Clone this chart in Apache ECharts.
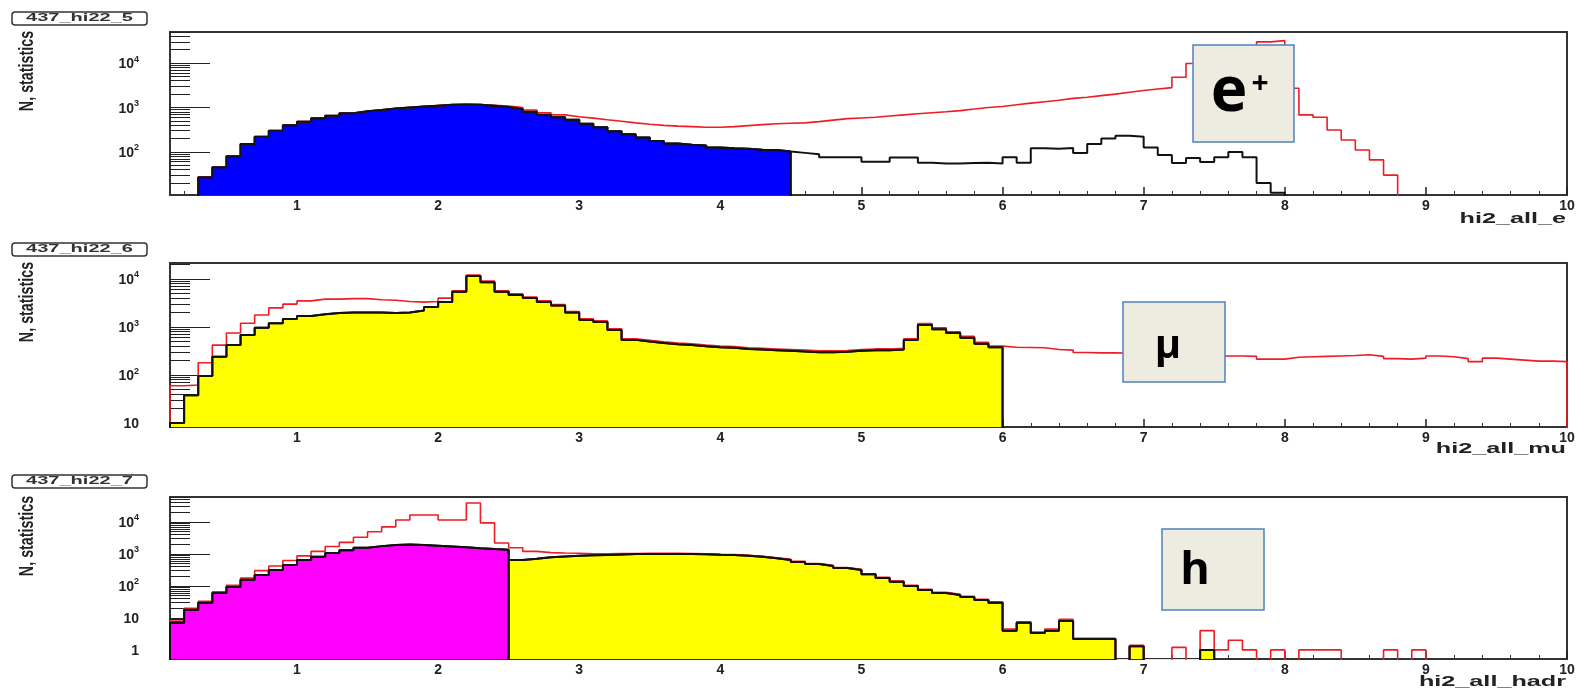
<!DOCTYPE html>
<html>
<head>
<meta charset="utf-8">
<style>
  html, body { margin: 0; padding: 0; background: #ffffff; }
  #chart { width: 1589px; height: 692px; }
</style>
<script src="https://cdn.jsdelivr.net/npm/echarts@6.0.0/dist/echarts.min.js"></script>
</head>
<body>
<div id="chart"></div>
<script>
// Histogram binning: 99 bins of width 0.1 starting at 0.1
const BIN_START = 0.1;
const BIN_WIDTH = 0.1;
const BIN_COUNT = 99;

// x axis tick labels (shared by the three pads)
const xTickLabels = [1, 2, 3, 4, 5, 6, 7, 8, 9, 10];

// Pad titles and x axis titles
const padNames = ['437_hi22_5', '437_hi22_6', '437_hi22_7'];
const xTitles = ['hi2_all_e', 'hi2_all_mu', 'hi2_all_hadr'];
const yTitle = 'N, statistics';
const particleLabels = ['e', 'μ', 'h'];

// ---- Pad 1: hi2_all_e (bin contents, one per 0.1 bin from 0.1) ----
const eAll = [
  0, 0, 27, 45, 80, 150, 220, 300, 400,
  480, 570, 650, 740, 820, 880, 950, 1000, 1050, 1100,
  1150, 1170, 1160, 1120, 1080, 1000, 880, 760, 680, 620,
  575, 530, 490, 450, 420, 395, 380, 370, 360, 360,
  370, 390, 410, 430, 440, 450, 480, 520, 560, 580,
  600, 640, 680, 720, 760, 800, 850, 920, 1000, 1050,
  1150, 1250, 1350, 1450, 1600, 1700, 1850, 2000, 2200, 2400,
  2600, 2800, 4800, 9800, 12000, 15000, 18000, 22000, 30000, 32000,
  2700, 680, 600, 310, 185, 110, 66, 30, 0, 0,
  0, 0, 0, 0, 0, 0, 0, 0, 0, 0
];
const eSel = [
  0, 0, 27, 45, 80, 150, 220, 300, 400,
  480, 570, 650, 740, 820, 880, 950, 1000, 1050, 1100,
  1150, 1170, 1150, 1100, 1020, 920, 800, 690, 600, 530,
  430, 360, 290, 250, 210, 175, 155, 145, 140, 125,
  120, 118, 112, 110, 102, 95, 88, 76, 76, 76,
  60, 60, 75, 75, 57, 55, 55, 56, 57, 55,
  76, 57, 120, 118, 122, 95, 150, 200, 230, 220,
  125, 85, 56, 73, 59, 76, 99, 76, 20, 12,
  0, 0, 0, 0, 0, 0, 0, 0, 0, 0,
  0, 0, 0, 0, 0, 0, 0, 0, 0, 0
];
const eCut = 4.5;

// ---- Pad 2: hi2_all_mu ----
const muAll = [
  60, 62, 180, 420, 750, 1200, 1780, 2500, 3000,
  3500, 3800, 3800, 3900, 3900, 3700, 3600, 3400, 3300, 3400,
  4000, 5700, 12000, 9000, 5700, 4900, 4200, 3500, 2950, 2100,
  1480, 1340, 920, 570, 530, 490, 465, 445, 420, 400,
  390, 370, 360, 350, 340, 330, 320, 320, 325, 340,
  350, 350, 360, 570, 1180, 960, 800, 640, 480, 400,
  380, 375, 370, 340, 330, 295, 290, 290, 285, 280,
  275, 270, 265, 260, 255, 250, 250, 245, 215, 215,
  235, 240, 245, 250, 255, 265, 245, 220, 215, 225,
  250, 240, 220, 190, 225, 215, 205, 195, 195, 190
];
const muSel = [
  10, 38, 96, 240, 420, 680, 960, 1200, 1470,
  1700, 1850, 1950, 2000, 2000, 2000, 1950, 2000, 2200, 2600,
  3300, 5400, 11500, 8500, 5400, 4650, 4000, 3300, 2800, 2000,
  1400, 1270, 870, 540, 500, 465, 440, 420, 400, 380,
  370, 350, 340, 330, 320, 310, 300, 300, 305, 320,
  330, 330, 340, 540, 1100, 900, 750, 600, 450, 380,
  0, 0, 0, 0, 0, 0, 0, 0, 0, 0,
  0, 0, 0, 0, 0, 0, 0, 0, 0, 0,
  0, 0, 0, 0, 0, 0, 0, 0, 0, 0,
  0, 0, 0, 0, 0, 0, 0, 0, 0, 0
];
const muCut = 6.0;

// ---- Pad 3: hi2_all_hadr ----
const hadrAll = [
  8, 20, 33, 65, 105, 175, 300, 420, 620,
  870, 1200, 1700, 2300, 3300, 4900, 7000, 11500, 16500, 16500,
  11500, 11500, 39000, 9300, 2200, 1550, 1200, 1100, 1070, 1050,
  1000, 1010, 1020, 1030, 1040, 1040, 1040, 1030, 1000, 970,
  950, 910, 840, 760, 680, 585, 500, 440, 375, 330,
  240, 185, 142, 105, 78, 63, 55, 47, 38, 32,
  4.5, 7.5, 3.6, 4.5, 9, 2.3, 2.3, 2.3, 0, 1.4,
  0, 0, 1.2, 0, 4, 1, 2, 1, 0, 1,
  0, 1, 1, 1, 0, 0, 0, 1, 0, 1,
  0, 0, 0, 0, 0, 0, 0, 0, 0, 0
];
const hadrSel = [
  7, 18, 30, 60, 93, 155, 220, 316, 450,
  650, 810, 1070, 1300, 1550, 1750, 1900, 1950, 1900, 1800,
  1700, 1600, 1500, 1420, 1350, 650, 700, 780, 830, 870,
  900, 930, 960, 990, 1000, 1000, 1000, 990, 970, 940,
  920, 880, 810, 730, 650, 560, 480, 420, 360, 316,
  230, 178, 135, 100, 75, 60, 52, 45, 36, 30,
  4, 7, 3.4, 4, 8, 2.2, 2.2, 2.2, 0, 1.3,
  0, 0, 0, 0, 1, 0, 0, 0, 0, 0,
  0, 0, 0, 0, 0, 0, 0, 0, 0, 0,
  0, 0, 0, 0, 0, 0, 0, 0, 0, 0
];
const hadrCut = 2.5;
const hadrEnd = 7.5;

// Pad frames (pixel boxes) and log ranges of the y axes
const pads = [
  { top: 32,  height: 163, yMin: 10.7, yMax: 50000 },
  { top: 263, height: 164, yMin: 8.3,  yMax: 21500 },
  { top: 497, height: 162, yMin: 0.52, yMax: 60000 }
];
const FRAME_LEFT = 170;
const FRAME_RIGHT = 1567;

function edge(i) {
  return Math.round((BIN_START + i * BIN_WIDTH) * 100) / 100;
}
function binIndex(x) {
  return Math.round((x - BIN_START) / BIN_WIDTH);
}

// Step outline for bins first..last; empty bins sink below the frame
function stepPoints(counts, first, last, floor) {
  const pts = [[edge(first), floor]];
  for (let i = first; i <= last; i++) {
    const v = counts[i] > 0 ? counts[i] : floor;
    pts.push([edge(i), v], [edge(i + 1), v]);
  }
  pts.push([edge(last + 1), floor]);
  return pts;
}

function logTicks(min, max) {
  const major = [], minor = [];
  for (let p = -1; p <= 6; p++) {
    const d = Math.pow(10, p);
    if (d >= min && d <= max) major.push(d);
    for (let k = 2; k <= 9; k++) {
      const v = k * d;
      if (v >= min && v <= max) minor.push(v);
    }
  }
  return { major, minor };
}

const xMinorTicks = [];
for (let i = 1; i <= 49; i++) {
  const v = Math.round(i * 2) / 10;
  if (Math.abs(v - Math.round(v)) > 1e-6) xMinorTicks.push(v);
}

const grids = [], xAxes = [], yAxes = [], series = [];

pads.forEach((p, gi) => {
  grids.push({
    left: FRAME_LEFT, top: p.top, width: FRAME_RIGHT - FRAME_LEFT, height: p.height,
    show: true, borderColor: '#333', borderWidth: 2, backgroundColor: 'transparent'
  });
  const baseX = {
    gridIndex: gi, type: 'value', position: 'bottom', min: BIN_START, max: 10,
    axisLine: { show: false }, splitLine: { show: false }
  };
  xAxes.push(Object.assign({}, baseX, {
    axisTick: { show: true, inside: true, length: 8, customValues: xTickLabels,
      lineStyle: { color: '#222', width: 1.5 } },
    axisLabel: { show: true, customValues: xTickLabels, margin: 4,
      fontSize: 14, fontWeight: 'bold', color: '#222', fontFamily: 'Liberation Sans' }
  }));
  xAxes.push(Object.assign({}, baseX, {
    axisTick: { show: true, inside: true, length: 4, customValues: xMinorTicks,
      lineStyle: { color: '#333', width: 1 } },
    axisLabel: { show: false }
  }));

  const t = logTicks(p.yMin, p.yMax);
  const baseY = {
    gridIndex: gi, type: 'log', logBase: 10, position: 'left', min: p.yMin, max: p.yMax,
    axisLine: { show: false }, splitLine: { show: false }
  };
  yAxes.push(Object.assign({}, baseY, {
    axisTick: { show: true, inside: true, length: 40, customValues: t.major,
      lineStyle: { color: '#222', width: 1.2 } },
    axisLabel: {
      show: true, customValues: t.major, margin: 31,
      formatter: function (v) {
        const e = Math.round(Math.log10(v));
        if (e === 0) return '{b|1}';
        if (e === 1) return '{b|10}';
        return '{b|10}{s|' + e + '}';
      },
      rich: {
        b: { fontSize: 14, fontWeight: 'bold', color: '#222', fontFamily: 'Liberation Sans',
             lineHeight: 17, verticalAlign: 'bottom' },
        s: { fontSize: 9, fontWeight: 'bold', color: '#222', fontFamily: 'Liberation Sans',
             lineHeight: 17, verticalAlign: 'top' }
      }
    }
  }));
  yAxes.push(Object.assign({}, baseY, {
    axisTick: { show: true, inside: true, length: 20, customValues: t.minor,
      lineStyle: { color: '#222', width: 1 } },
    axisLabel: { show: false }
  }));
});

function fill(gi, counts, fromX, toX, color) {
  const floor = pads[gi].yMin / 3;
  return {
    type: 'line', xAxisIndex: gi * 2, yAxisIndex: gi * 2,
    data: stepPoints(counts, binIndex(fromX), binIndex(toX) - 1, floor),
    symbol: 'none', silent: true, animation: false, clip: true, z: 2,
    lineStyle: { color: '#111', width: 2 },
    areaStyle: { color: color, opacity: 1, origin: 'start' }
  };
}
function outline(gi, counts, color, width, z) {
  const floor = pads[gi].yMin / 3;
  return {
    type: 'line', xAxisIndex: gi * 2, yAxisIndex: gi * 2,
    data: stepPoints(counts, 0, BIN_COUNT - 1, floor),
    symbol: 'none', silent: true, animation: false, clip: true, z: z,
    lineStyle: { color: color, width: width }
  };
}

const RED = '#ee1c24';
const BLACK = '#111111';

// Pad 1
series.push(fill(0, eSel, 0.3, eCut, '#0000ff'));
series.push(outline(0, eAll, RED, 1.6, 3));
series.push(outline(0, eSel, BLACK, 2, 4));
// Pad 2
series.push(fill(1, muSel, BIN_START, muCut, '#ffff00'));
series.push(outline(1, muAll, RED, 1.6, 3));
series.push(outline(1, muSel, BLACK, 2, 4));
// Pad 3
series.push(fill(2, hadrSel, BIN_START, hadrCut, '#ff00ff'));
series.push(fill(2, hadrSel, hadrCut, hadrEnd, '#ffff00'));
series.push(outline(2, hadrAll, RED, 1.6, 3));
series.push(outline(2, hadrSel, BLACK, 2, 4));

// Text helpers for the annotation layer
function txt(x, y, text, o) {
  o = o || {};
  return {
    type: 'text', x: x, y: y, z: 100, silent: true,
    scaleX: o.sx || 1, scaleY: o.sy || 1, rotation: o.rot || 0,
    style: {
      text: text, fill: o.color || '#222',
      fontSize: o.size || 12, fontWeight: o.weight || 'bold',
      fontFamily: o.family || 'Liberation Sans',
      align: o.align || 'center', verticalAlign: 'middle',
      textAlign: o.align || 'center', textVerticalAlign: 'middle'
    }
  };
}
function box(x, y, w, h, fillColor, stroke, lw, r) {
  return {
    type: 'rect', z: 99, silent: true,
    shape: { x: x, y: y, width: w, height: h, r: r || 0 },
    style: { fill: fillColor, stroke: stroke, lineWidth: lw }
  };
}

const graphics = [];
const titleBoxY = [12, 243, 475];
const yTitleY = [71, 302, 536];
const xTitleY = [219, 449, 682];
pads.forEach((p, gi) => {
  graphics.push(box(12, titleBoxY[gi], 135, 13, '#ffffff', '#333', 1.5, 3));
  graphics.push(txt(79.5, titleBoxY[gi] + 6.5, padNames[gi], { size: 10, sx: 2.0, color: '#333' }));
  graphics.push(txt(27, yTitleY[gi], yTitle, { size: 13, rot: Math.PI / 2, sx: 1.1, sy: 1.6 }));
  graphics.push(txt(1566, xTitleY[gi], xTitles[gi], { size: 14, sx: 1.8, align: 'right' }));
});

// Particle legend boxes
const LBOX_FILL = '#eeece1';
const LBOX_STROKE = '#4f81bd';
graphics.push(box(1193, 45, 101, 97, LBOX_FILL, LBOX_STROKE, 1.5));
graphics.push(txt(1229, 93, particleLabels[0], { size: 62, family: 'Open Sans', color: '#000' }));
graphics.push(txt(1260, 84, '+', { size: 30, family: 'Open Sans', color: '#000' }));
graphics.push(box(1123, 302, 102, 80, LBOX_FILL, LBOX_STROKE, 1.5));
graphics.push(txt(1168, 347, particleLabels[1], { size: 40, family: 'Open Sans', color: '#000' }));
graphics.push(box(1162, 529, 102, 81, LBOX_FILL, LBOX_STROKE, 1.5));
graphics.push(txt(1195, 571, particleLabels[2], { size: 45, family: 'Open Sans', color: '#000' }));

const chart = echarts.init(document.getElementById('chart'), null, { renderer: 'canvas' });
chart.setOption({
  backgroundColor: '#ffffff',
  animation: false,
  grid: grids,
  xAxis: xAxes,
  yAxis: yAxes,
  series: series,
  graphic: { elements: graphics }
});
</script>
</body>
</html>
